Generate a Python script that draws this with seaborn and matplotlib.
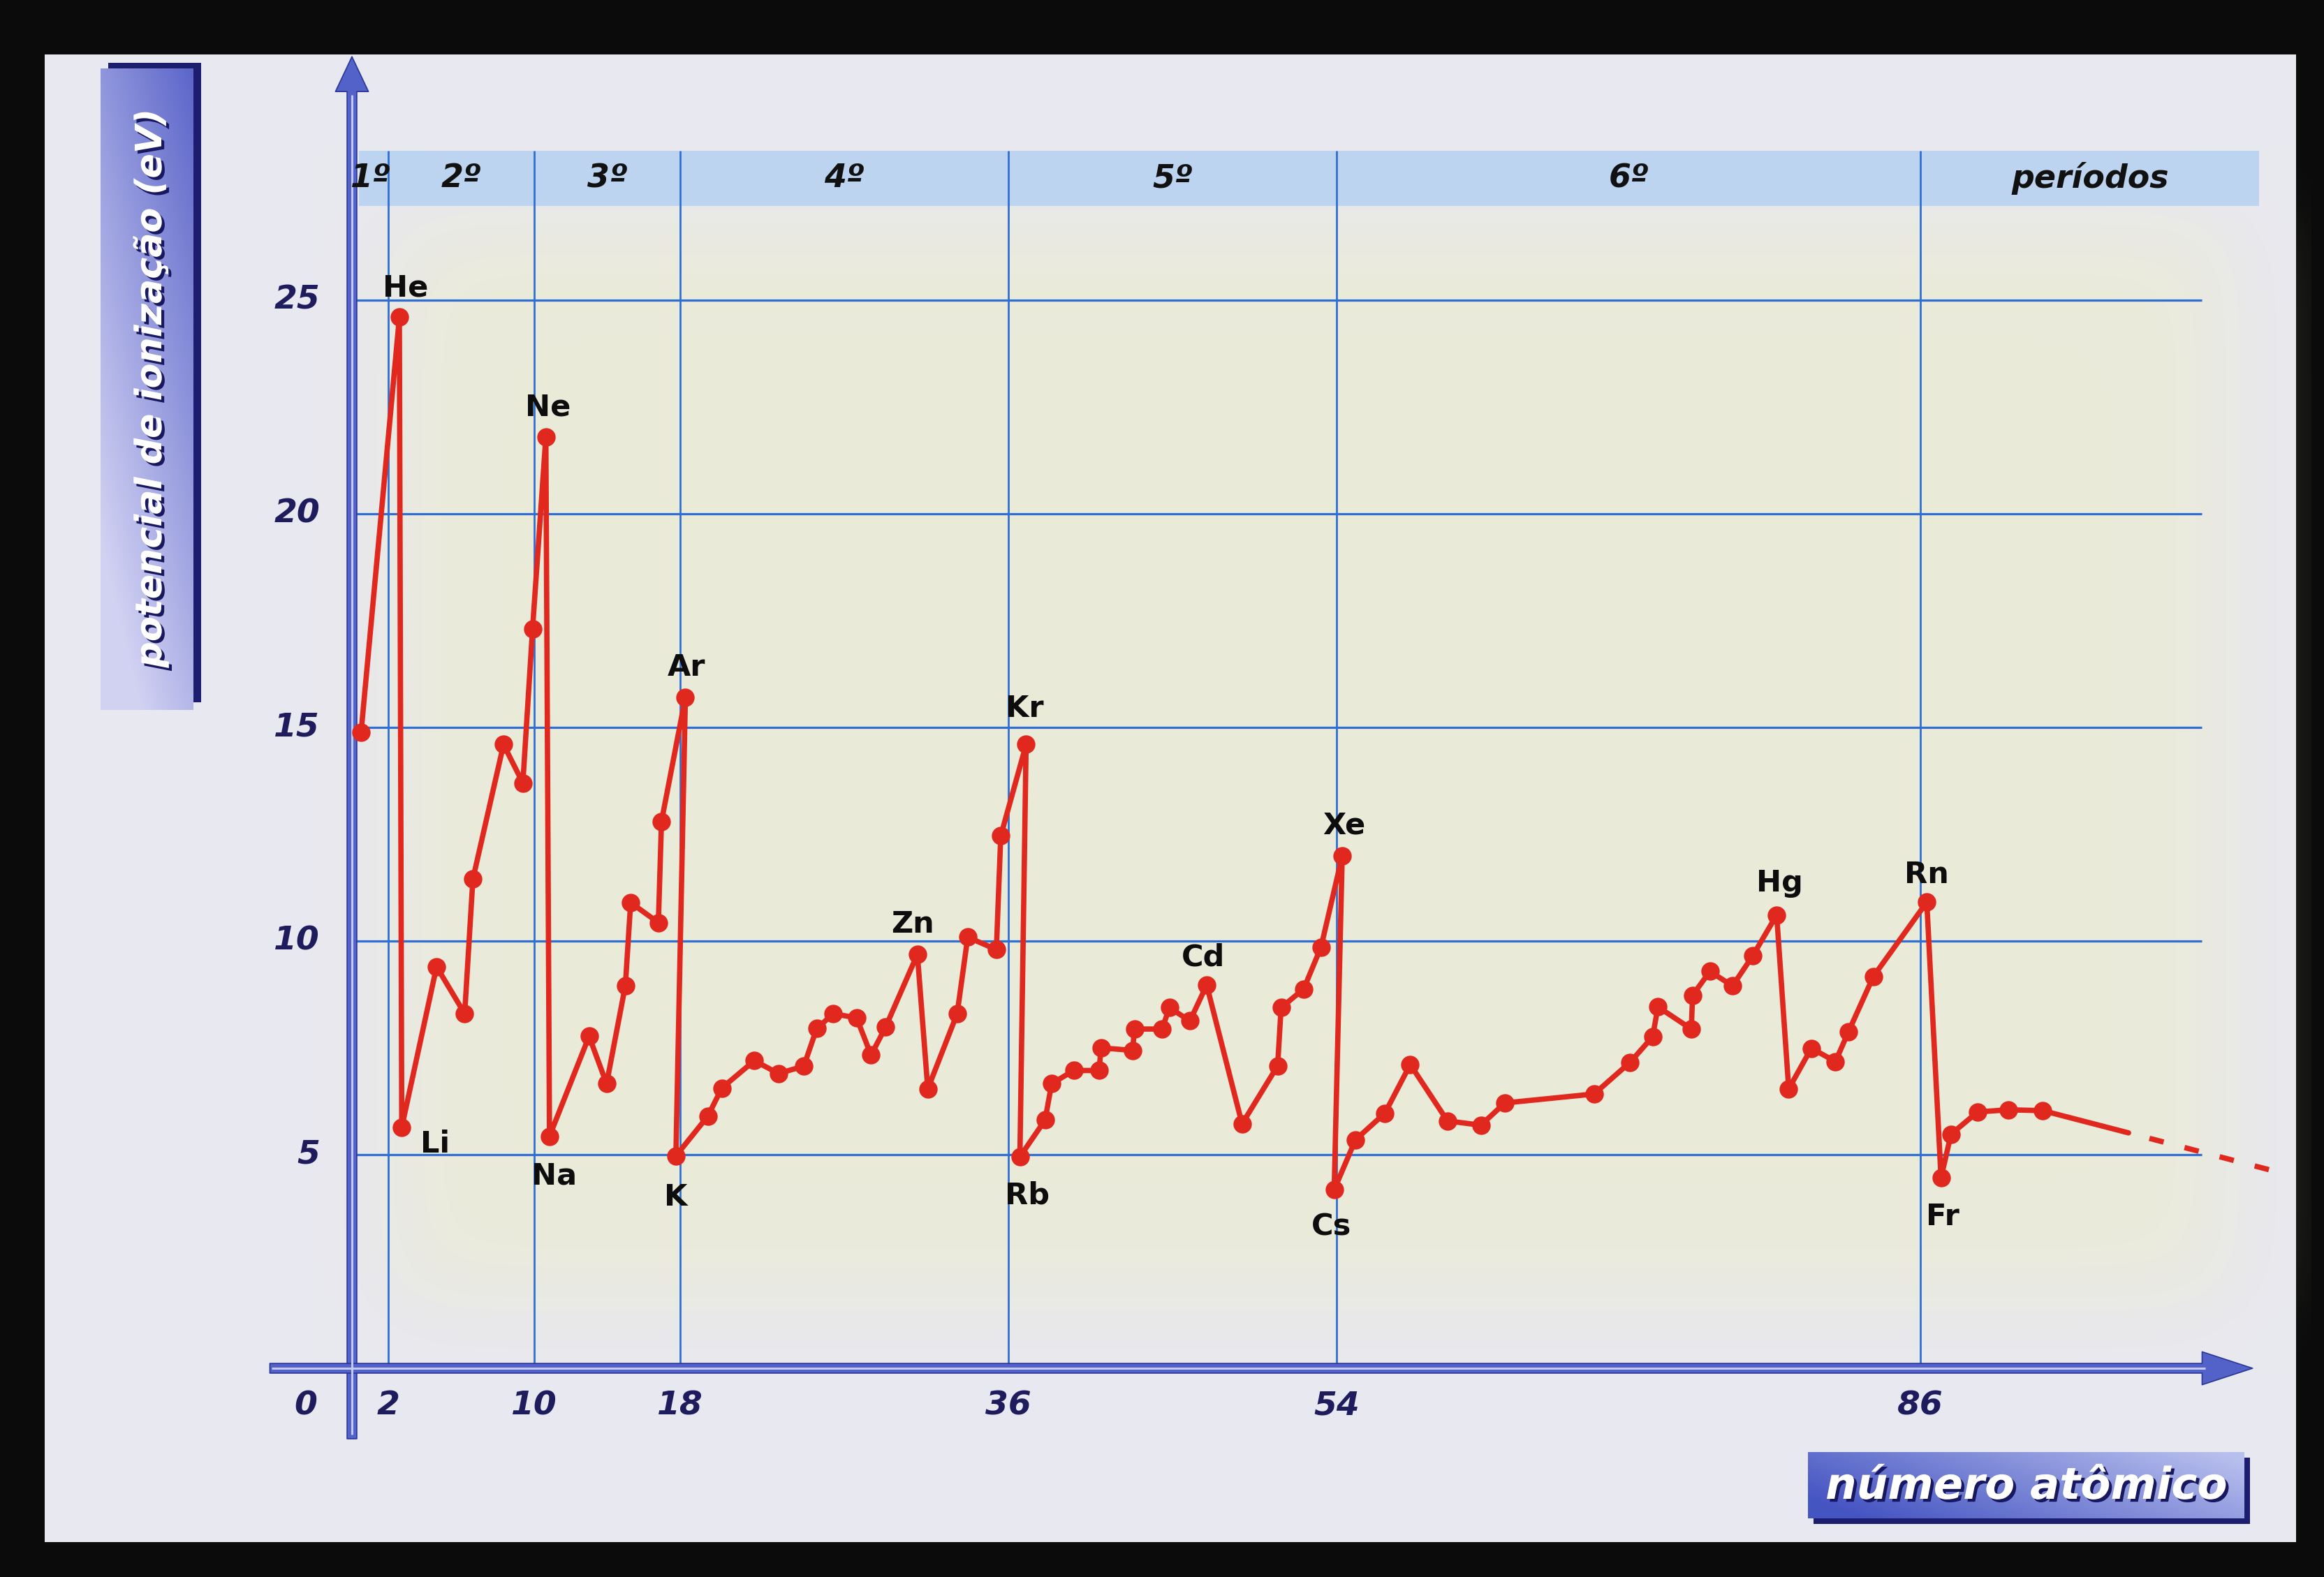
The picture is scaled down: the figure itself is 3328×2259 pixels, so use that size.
import numpy as np
import pandas as pd
import matplotlib
matplotlib.use("Agg")
import matplotlib.pyplot as plt
import seaborn as sns
from matplotlib.patches import Rectangle, FancyArrowPatch, ArrowStyle
import matplotlib.patheffects as pe

sns.set_theme(style="white")
plt.rcParams["font.family"] = ["DejaVu Sans"]

# ---------------- data ----------------
element = ["H", "He", "Li", "Be", "B", "C", "N", "O", "F", "Ne",
           "Na", "Mg", "Al", "Si", "P", "S", "Cl", "Ar",
           "K", "Ca", "Sc", "Ti", "V", "Cr", "Mn", "Fe", "Co", "Ni", "Cu", "Zn",
           "Ga", "Ge", "As", "Se", "Br", "Kr",
           "Rb", "Sr", "Y", "Zr", "Nb", "Mo", "Tc", "Ru", "Rh", "Pd", "Ag", "Cd",
           "In", "Sn", "Sb", "Te", "I", "Xe",
           "Cs", "Ba", "La", "", "", "", "", "", "", "", "", "", "", "", "", "",
           "Hg", "Tl", "Pb", "Bi", "Po", "At", "Rn",
           "Fr", "Ra", "Ac", "", ""]
atomic_position = [0.5, 2.6, 2.73, 4.64, 6.18, 6.63, 8.31, 9.37, 9.9, 10.63,
                   10.83, 13.0, 13.96, 14.99, 15.28, 16.8, 16.97, 18.28,
                   17.76, 19.51, 20.28, 22.06, 23.38, 24.77, 25.48, 26.39, 27.67, 28.46, 29.26, 31.0,
                   31.57, 33.18, 33.76, 35.33, 35.57, 36.96,
                   36.62, 38.0, 38.36, 39.57, 40.96, 41.07, 42.8, 42.9, 44.41, 44.82, 45.94, 46.86,
                   48.8, 50.75, 50.94, 52.18, 53.13, 54.29,
                   53.85, 55.02, 56.63, 58.02, 60.06, 61.89, 63.21, 68.1, 70.07, 71.31, 71.6,
                   73.43, 73.5, 74.45, 75.69, 76.79,
                   78.11, 78.77, 80.01, 81.33, 82.05, 83.41, 86.34,
                   87.12, 87.67, 89.13, 90.81, 92.7]
ionization_ev = [14.88, 24.6, 5.64, 9.4, 8.3, 11.45, 14.6, 13.7, 17.3, 21.8,
                 5.43, 7.77, 6.66, 8.96, 10.9, 10.43, 12.8, 15.7,
                 4.97, 5.9, 6.56, 7.2, 6.9, 7.07, 7.95, 8.3, 8.2, 7.33, 7.99, 9.69,
                 6.54, 8.3, 10.09, 9.8, 12.46, 14.6,
                 4.95, 5.81, 6.66, 6.97, 6.97, 7.5, 7.44, 7.94, 7.94, 8.44, 8.13, 8.97,
                 5.72, 7.08, 8.44, 8.88, 9.86, 11.99,
                 4.18, 5.35, 5.97, 7.11, 5.79, 5.69, 6.21, 6.42, 7.16, 7.76, 8.46,
                 7.94, 8.73, 9.29, 8.95, 9.65,
                 10.61, 6.54, 7.49, 7.18, 7.88, 9.17, 10.91,
                 4.46, 5.48, 6.0, 6.05, 6.03]
tail_solid_position = [92.7, 97.4]
tail_solid_ev = [6.03, 5.51]
tail_dash_position = [97.4, 105.35]
tail_dash_ev = [5.51, 4.62]

labelled = ["He", "Li", "Ne", "Na", "Ar", "K", "Zn", "Kr", "Rb", "Cd", "Xe", "Cs", "Hg", "Rn", "Fr"]
x_ticks = [2, 10, 18, 36, 54, 86]
y_ticks = [5, 10, 15, 20, 25]
period_bounds = [0, 2, 10, 18, 36, 54, 86]
period_labels = ["1º", "2º", "3º", "4º", "5º", "6º"]
period_title = "períodos"
y_title = "potencial de ionização (eV)"
x_title = "número atômico"

# ---------------- styles / layout ----------------
W, H = 3328, 2259
RED = "#e0281f"
GRID = "#2f6fd4"
NAVY = "#1f1c5e"
AXBLUE = "#5262c8"
label_offsets = {"He": (9, 42), "Li": (48, -24), "Ne": (3, 42), "Na": (7, -57), "Ar": (2, 43),
                 "K": (0, -59), "Zn": (-7, 43), "Kr": (-2, 51), "Rb": (10, -55), "Cd": (-5, 40),
                 "Xe": (3, 44), "Cs": (-4, -53), "Hg": (4, 46), "Rn": (0, 39), "Fr": (2, -56)}

Z0_PX, PX_PER_Z = 504.0, 26.12
EV0_PX, PX_PER_EV = 1960.0, 61.2
XLIM = (-5.0, 107.0)
YLIM = (-2.0, 31.0)

fig = plt.figure(figsize=(W / 100, H / 100), dpi=100, facecolor="#0b0b0b")

# background axes in pixel coordinates
bg = fig.add_axes([0, 0, 1, 1], zorder=0)
bg.set_xlim(0, W)
bg.set_ylim(H, 0)
bg.axis("off")
bg.add_patch(Rectangle((64, 78), 3288 - 64, 2209 - 78, facecolor="#e8e8f0", edgecolor="none"))


def soft_rect(x0, y0, x1, y1, rgb, soft, alpha=1.0):
    xs = np.linspace(x0 - 3 * soft, x1 + 3 * soft, 500)
    ys = np.linspace(y0 - 3 * soft, y1 + 3 * soft, 400)
    ax_ = (1 / (1 + np.exp(-(xs - x0) / soft))) * (1 / (1 + np.exp((xs - x1) / soft)))
    ay_ = (1 / (1 + np.exp(-(ys - y0) / soft))) * (1 / (1 + np.exp((ys - y1) / soft)))
    img = np.zeros((len(ys), len(xs), 4))
    img[..., :3] = rgb
    img[..., 3] = alpha * np.outer(ay_, ax_)
    bg.imshow(img, extent=(xs[0], xs[-1], ys[-1], ys[0]), interpolation="bilinear", zorder=1)


soft_rect(560, 320, 3190, 1860, np.array([0.925, 0.922, 0.845]), 40, 0.9)


def gradient_box(x0, y0, x1, y1, c_a, c_b, direction):
    n = 256
    t = np.linspace(0, 1, n)
    if direction == "diag_y":
        gx, gy = np.meshgrid(t, t)
        f = np.clip(0.75 * gy + 0.45 * (1 - gx), 0, 1)
    else:
        gx, gy = np.meshgrid(t, t)
        f = np.clip(0.8 * gx + 0.35 * (1 - gy) - 0.1, 0, 1)
    ca, cb = np.array(c_a), np.array(c_b)
    img = ca[None, None, :] * (1 - f[..., None]) + cb[None, None, :] * f[..., None]
    bg.imshow(img, extent=(x0, x1, y1, y0), interpolation="bilinear", zorder=3)


# y-title box
bg.add_patch(Rectangle((155, 90), 288 - 155, 1006 - 90, facecolor="#1c1d6e", edgecolor="none", zorder=2))
gradient_box(144, 98, 277, 1017, (0.36, 0.40, 0.79), (0.82, 0.82, 0.95), "diag_y")
# x-title box
bg.add_patch(Rectangle((2597, 2088), 3222 - 2597, 2183 - 2088, facecolor="#1c1d6e", edgecolor="none", zorder=2))
gradient_box(2589, 2080, 3214, 2175, (0.27, 0.33, 0.76), (0.72, 0.75, 0.93), "diag_x")

title_fx = [pe.SimplePatchShadow(offset=(3, -3), shadow_rgbFace="#181860", alpha=1.0), pe.Normal()]
t_y = bg.text(216, 556, y_title, rotation=90, ha="center", va="center", color="white",
              fontsize=40, fontweight="bold", fontstyle="italic", zorder=5, path_effects=title_fx)
t_x = bg.text(2902, 2130, x_title, ha="center", va="center", color="white",
              fontsize=40, fontweight="bold", fontstyle="italic", zorder=5, path_effects=title_fx)
fig.canvas.draw()
rend = fig.canvas.get_renderer()
for t, target, vertical in [(t_y, 800, True), (t_x, 575, False)]:
    bb = t.get_window_extent(renderer=rend)
    size = bb.height if vertical else bb.width
    t.set_fontsize(t.get_fontsize() * target / size)

# main data axes
left_px = Z0_PX + XLIM[0] * PX_PER_Z
right_px = Z0_PX + XLIM[1] * PX_PER_Z
bottom_px = EV0_PX - YLIM[0] * PX_PER_EV
top_px = EV0_PX - YLIM[1] * PX_PER_EV
ax = fig.add_axes([left_px / W, 1 - bottom_px / H, (right_px - left_px) / W, (bottom_px - top_px) / H],
                  zorder=2)
ax.set_xlim(*XLIM)
ax.set_ylim(*YLIM)
ax.patch.set_alpha(0)
for s in ax.spines.values():
    s.set_visible(False)
ax.set_xticks([])
ax.set_yticks([])
ax.set_xlabel("")
ax.set_ylabel("")

# period band
BAND_LO, BAND_HI = 27.2, 28.5
ax.add_patch(Rectangle((0.4, BAND_LO), 104.55 - 0.4, BAND_HI - BAND_LO, facecolor="#bdd4f0",
                       edgecolor="none", zorder=1))
mids = [(a + b) / 2 for a, b in zip(period_bounds[:-1], period_bounds[1:])]
for m, lab in zip(mids, period_labels):
    ax.text(m, (BAND_LO + BAND_HI) / 2, lab, ha="center", va="center", fontsize=33,
            fontweight="bold", fontstyle="italic", color="#111111", zorder=6)
ax.text(95.3, (BAND_LO + BAND_HI) / 2, period_title, ha="center", va="center", fontsize=33,
        fontweight="bold", fontstyle="italic", color="#111111", zorder=6)

# grid
ax.hlines(y_ticks, 0, 101.4, colors=GRID, linewidth=2.3, zorder=2)
ax.vlines(x_ticks, 0, BAND_HI, colors=GRID, linewidth=2.0, zorder=2)

# axes arrows
ya = FancyArrowPatch((0, -1.65), (0, 30.7), arrowstyle=ArrowStyle("simple", head_length=36, head_width=34, tail_width=10),
                     mutation_scale=1, facecolor=AXBLUE, edgecolor="#2b3796", linewidth=1.2, zorder=3,
                     shrinkA=0, shrinkB=0)
xa = FancyArrowPatch((-4.5, 0), (104.2, 0), arrowstyle=ArrowStyle("simple", head_length=52, head_width=34, tail_width=10),
                     mutation_scale=1, facecolor=AXBLUE, edgecolor="#2b3796", linewidth=1.2, zorder=3,
                     shrinkA=0, shrinkB=0)
ax.add_patch(ya)
ax.add_patch(xa)
ax.plot([0, 0], [-1.55, 29.8], color="#c3c9f1", linewidth=2.2, zorder=3.1, solid_capstyle="butt")
ax.plot([-4.4, 101.6], [0, 0], color="#c3c9f1", linewidth=2.2, zorder=3.1, solid_capstyle="butt")

# tick labels
tick_kw = dict(fontsize=34, fontweight="bold", fontstyle="italic", color=NAVY, zorder=6,
               textcoords="offset pixels", annotation_clip=False)
for v in y_ticks:
    ax.annotate(str(v), (0, v), xytext=(-46, 0), ha="right", va="center", **tick_kw)
for v in x_ticks:
    ax.annotate(str(v), (v, 0), xytext=(0, -54), ha="center", va="center", **tick_kw)
ax.annotate("0", (0, 0), xytext=(-66, -54), ha="center", va="center", **tick_kw)

# data line
df = pd.DataFrame({"element": element, "z": atomic_position, "ev": ionization_ev})
sns.lineplot(data=df, x="z", y="ev", sort=False, estimator=None, color=RED, linewidth=5.5,
             marker="o", markersize=19, markeredgewidth=0, markeredgecolor=RED, ax=ax, zorder=4,
             legend=False)
sns.lineplot(x=tail_solid_position, y=tail_solid_ev, sort=False, estimator=None, color=RED,
             linewidth=5.5, ax=ax, zorder=4, legend=False)
sns.lineplot(x=tail_dash_position, y=tail_dash_ev, sort=False, estimator=None, color=RED,
             linewidth=5.5, ax=ax, zorder=4, legend=False)
ax.get_lines()[-1].set_linestyle((2.75, (2.75, 4.05)))
ax.set_xlim(*XLIM)
ax.set_ylim(*YLIM)
ax.set_xlabel("")
ax.set_ylabel("")

# element labels
for sym in labelled:
    i = element.index(sym)
    dx, dy = label_offsets[sym]
    ax.annotate(sym, (atomic_position[i], ionization_ev[i]), xytext=(dx, dy),
                textcoords="offset pixels", ha="center", va="center", fontsize=31,
                fontweight="bold", color="#0d0d0d", zorder=6, annotation_clip=False)

fig.savefig("out.png", dpi=100, facecolor=fig.get_facecolor())
